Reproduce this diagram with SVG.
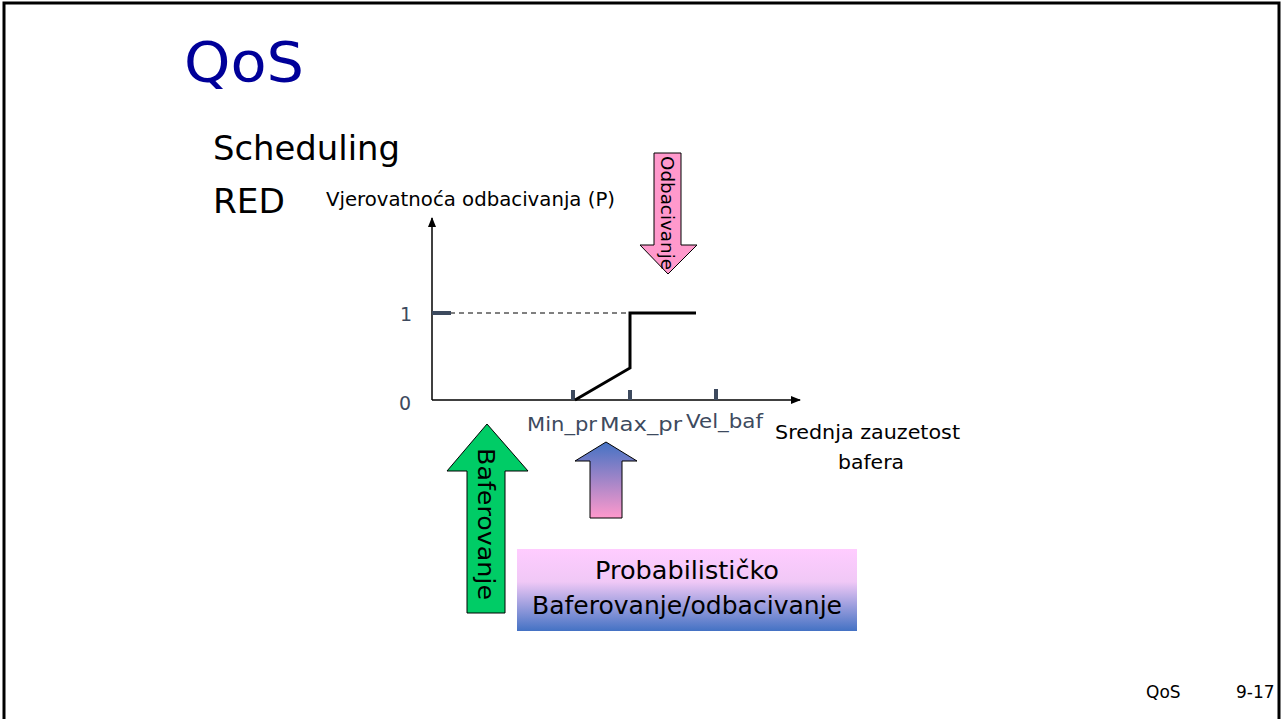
<svg xmlns="http://www.w3.org/2000/svg" width="1282" height="719" viewBox="0 0 1282 719">
  <defs>
    <linearGradient id="gradUp" x1="0" y1="0" x2="0" y2="1">
      <stop offset="0" stop-color="#4472c4"/>
      <stop offset="1" stop-color="#ff99cc"/>
    </linearGradient>
    <linearGradient id="gradBox" x1="0" y1="0" x2="0" y2="1">
      <stop offset="0" stop-color="#ffccff"/>
      <stop offset="0.4" stop-color="#f0c8f6"/>
      <stop offset="1" stop-color="#4472c4"/>
    </linearGradient>
    <marker id="axisHead" markerWidth="10" markerHeight="8" refX="9" refY="4" orient="auto" markerUnits="userSpaceOnUse">
      <path d="M0,0 L10,4 L0,8 Z" fill="#000"/>
    </marker>
  </defs>
  <style>
    text { font-family: "DejaVu Sans", "Liberation Sans", sans-serif; }
    .title { font-size: 56px; fill: #000099; }
    .head { font-size: 34px; fill: #000; }
    .lbl { font-size: 19px; fill: #000; }
    .axlbl { font-size: 19px; fill: #3d4a5e; }
    .tick { stroke: #3d4a5e; stroke-width: 4; }
    .foot { font-size: 17px; fill: #000; }
  </style>

  <rect width="1282" height="719" fill="#fff"/>
  <!-- slide frame -->
  <path d="M4,719 V3 H1279 V719" fill="none" stroke="#000" stroke-width="3"/>

  <text class="title" x="184" y="81" textLength="120" lengthAdjust="spacingAndGlyphs">QoS</text>
  <text class="head" x="213" y="160" textLength="187" lengthAdjust="spacingAndGlyphs">Scheduling</text>
  <text class="head" x="213" y="213" textLength="72" lengthAdjust="spacingAndGlyphs">RED</text>

  <!-- chart -->
  <g id="chart">
    <text class="lbl" x="326" y="206" textLength="289" lengthAdjust="spacingAndGlyphs">Vjerovatnoća odbacivanja (P)</text>
    <line x1="432" y1="400" x2="432" y2="218" stroke="#000" stroke-width="1.5" marker-end="url(#axisHead)"/>
    <line x1="432" y1="400" x2="800" y2="400" stroke="#000" stroke-width="1.5" marker-end="url(#axisHead)"/>
    <line x1="450" y1="313" x2="630" y2="313" stroke="#000" stroke-width="1" stroke-dasharray="5,4"/>
    <line class="tick" x1="432" y1="313" x2="451" y2="313"/>
    <line class="tick" x1="573" y1="390" x2="573" y2="400"/>
    <line class="tick" x1="630" y1="390" x2="630" y2="400"/>
    <line class="tick" x1="716" y1="389" x2="716" y2="400"/>
    <polyline points="575,400 630,368 630,313 696,313" fill="none" stroke="#000" stroke-width="3"/>
    <text class="axlbl" x="399" y="410">0</text>
    <text class="axlbl" x="400" y="321">1</text>
    <text class="axlbl" x="527" y="431" textLength="70" lengthAdjust="spacingAndGlyphs">Min_pr</text>
    <text class="axlbl" x="600" y="431" textLength="82" lengthAdjust="spacingAndGlyphs">Max_pr</text>
    <text class="axlbl" x="686" y="428" textLength="77" lengthAdjust="spacingAndGlyphs">Vel_baf</text>
    <text class="lbl" x="775" y="439" textLength="185" lengthAdjust="spacingAndGlyphs">Srednja zauzetost</text>
    <text class="lbl" x="838" y="469" textLength="66" lengthAdjust="spacingAndGlyphs">bafera</text>
  </g>

  <!-- drop arrow -->
  <g id="odbacivanje">
    <path d="M654,153 H681 V245 H697 L668,274 L640,245 H654 Z" fill="#ff99cc" stroke="#000" stroke-width="1"/>
    <text x="0" y="0" font-size="17" transform="translate(661,156) rotate(90)" textLength="114" lengthAdjust="spacingAndGlyphs">Odbacivanje</text>
  </g>

  <!-- buffer arrow -->
  <g id="baferovanje">
    <path d="M467,613 V471 H447 L487,424 L528,471 H505 V613 Z" fill="#00cc66" stroke="#000" stroke-width="1"/>
    <text x="0" y="0" font-size="23" transform="translate(478,448) rotate(90)" textLength="152" lengthAdjust="spacingAndGlyphs">Baferovanje</text>
  </g>

  <!-- probabilistic arrow -->
  <g id="prob-arrow">
    <path d="M590,518 V461 H575 L606,442 L637,461 H622 V518 Z" fill="url(#gradUp)" stroke="#000" stroke-width="1"/>
  </g>

  <g id="prob-box">
    <rect x="517" y="549" width="340" height="82" fill="url(#gradBox)"/>
    <text x="687" y="579" font-size="24" text-anchor="middle" textLength="184" lengthAdjust="spacingAndGlyphs">Probabilističko</text>
    <text x="687" y="614" font-size="24" text-anchor="middle" textLength="310" lengthAdjust="spacingAndGlyphs">Baferovanje/odbacivanje</text>
  </g>

  <text class="foot" x="1146" y="698">QoS</text>
  <text class="foot" x="1236" y="698">9-17</text>
</svg>
